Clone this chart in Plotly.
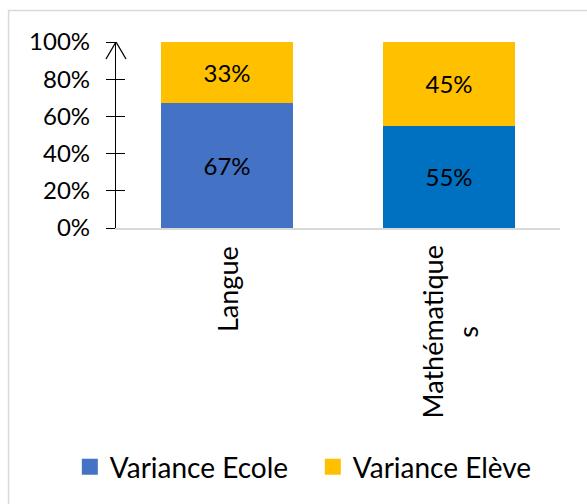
import plotly.graph_objects as go

# Share of variance between schools and pupils, per subject
categories = ["Langue", "Mathématiques"]
category_labels = ["Langue", "Mathématique<br>s"]
variance_ecole = [67, 55]
variance_eleve = [33, 45]
tick_values = [0, 20, 40, 60, 80, 100]
tick_labels = [f"{v}%" for v in tick_values]

FONT = "Lato"
BLUE_LIGHT = "#4472C4"
BLUE_DARK = "#0070C0"
YELLOW = "#FFC000"

fig = go.Figure()

fig.add_trace(go.Bar(
    x=categories, y=variance_ecole, name="Variance Ecole",
    marker=dict(color=[BLUE_LIGHT, BLUE_DARK], line=dict(width=0)),
    text=[f"{v}%" for v in variance_ecole], textposition="inside",
    insidetextanchor="middle",
    textfont=dict(family=FONT, size=24, color="black"),
    showlegend=False,
))
fig.add_trace(go.Bar(
    x=categories, y=variance_eleve, name="Variance Elève",
    marker=dict(color=YELLOW, line=dict(width=0)),
    text=[f"{v}%" for v in variance_eleve], textposition="inside",
    insidetextanchor="middle",
    textfont=dict(family=FONT, size=24, color="black"),
    showlegend=False,
))

# Legend entries with square swatches
for name, color in [("Variance Ecole", BLUE_LIGHT), ("Variance Elève", YELLOW)]:
    fig.add_trace(go.Scatter(
        x=[None], y=[None], mode="markers", name=name,
        marker=dict(symbol="square", size=17, color=color),
    ))

# Inner half of the crossing tick marks on the value axis
fig.add_trace(go.Scatter(x=[None], y=[None], yaxis="y2", showlegend=False,
                         hoverinfo="skip"))

# Category labels, rotated and centred line by line
label_annotations = [
    dict(x=cat, y=0, xref="x", yref="paper", text=lab, showarrow=False,
         textangle=-90, align="center", xanchor="center", yanchor="top",
         yshift=-16, font=dict(family=FONT, size=27, color="black"))
    for cat, lab in zip(categories, category_labels)
]

fig.update_layout(
    barmode="stack",
    bargap=0.405,
    width=587, height=504,
    margin=dict(l=116, r=27, t=42, b=276),
    paper_bgcolor="white", plot_bgcolor="white",
    font=dict(family=FONT, size=24, color="black"),
    xaxis=dict(
        showticklabels=False, showline=True, linecolor="#D9D9D9",
        linewidth=1.5, showgrid=False, ticks="",
    ),
    yaxis=dict(
        range=[0, 100], tickmode="array", tickvals=tick_values,
        ticktext=tick_labels, showgrid=False, zeroline=False,
        showline=True, linecolor="black", linewidth=1.3,
        ticks="outside", ticklen=9, tickwidth=1.3, tickcolor="black",
        ticklabelstandoff=11,
        tickfont=dict(family=FONT, size=24, color="black"),
    ),
    yaxis2=dict(
        overlaying="y", side="left", range=[0, 100], tickmode="array",
        tickvals=tick_values, showticklabels=False, showgrid=False,
        zeroline=False, showline=False,
        ticks="inside", ticklen=9, tickwidth=1.3, tickcolor="black",
    ),
    legend=dict(
        orientation="h", x=-0.104, xanchor="left", y=-1.285, yanchor="middle",
        traceorder="normal",
        font=dict(family=FONT, size=28, color="black"),
        entrywidth=198, entrywidthmode="pixels", itemsizing="trace",
        bgcolor="rgba(0,0,0,0)",
    ),
    shapes=[
        dict(
            type="rect", xref="paper", yref="paper",
            x0=-0.242, x1=1.6, y0=-2.0, y1=1.169,
            line=dict(color="#D9D9D9", width=1.5), fillcolor="rgba(0,0,0,0)",
            layer="below",
        ),
        # Open arrow head capping the value axis
        dict(
            type="path", xref="paper", yref="y",
            xsizemode="pixel", ysizemode="pixel", xanchor=0, yanchor=100,
            path="M-10,-17L0,0L10,-17",
            line=dict(color="black", width=1.3),
        ),
    ],
    annotations=label_annotations,
)

fig.write_html("out.html")
